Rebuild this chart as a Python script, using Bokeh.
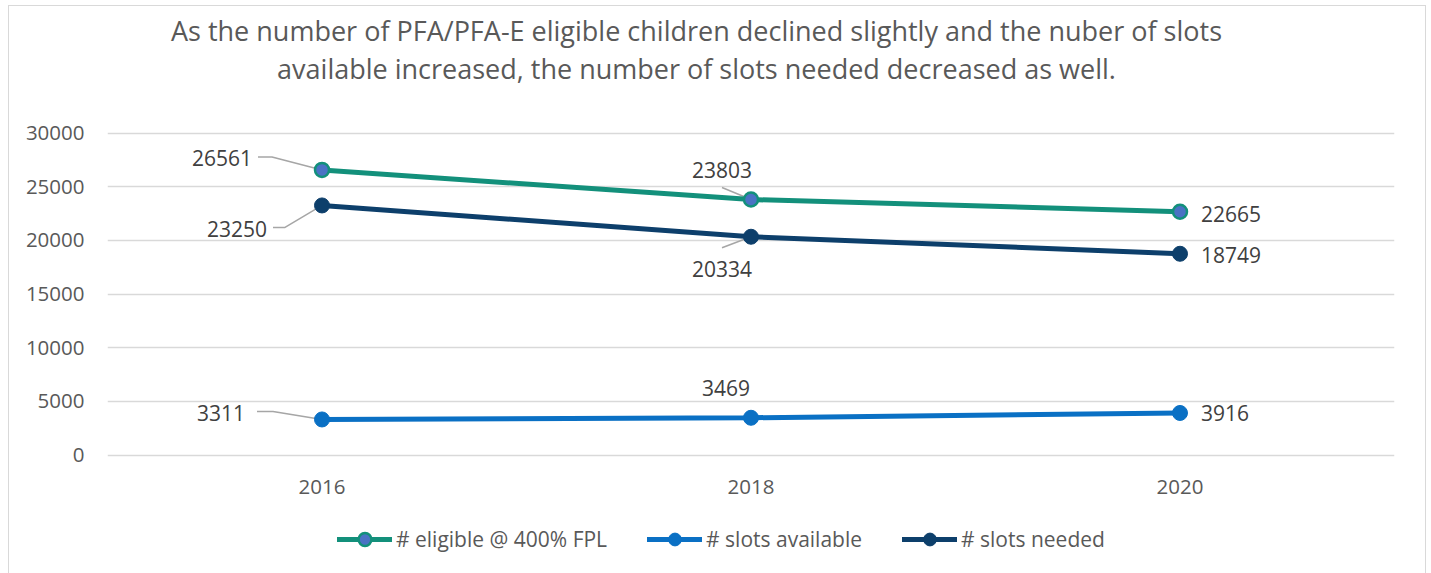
from bokeh.plotting import figure
from bokeh.models import (Range1d, FixedTicker, Legend, LegendItem, Label)
from bokeh.core.properties import value
from bokeh.embed import file_html
from bokeh.resources import INLINE

# ---- data ----
years = ["2016", "2018", "2020"]
eligible = [26561, 23803, 22665]
slots_available = [3311, 3469, 3916]
slots_needed = [23250, 20334, 18749]
series_names = ["# eligible @ 400% FPL", "# slots available", "# slots needed"]
title_lines = ["As the number of PFA/PFA-E eligible children declined slightly and the nuber of slots",
               "available increased, the number of slots needed decreased as well."]

# ---- style / layout ----
FONT = "Open Sans"
GREEN = "#13907b"
BLUE_FILL = "#4a72c4"
BLUE = "#0a70c4"
NAVY = "#0d3f6b"
TXT = "#595959"
LBL = "#404040"

ML, MR = 98, 31
FW, FH = 1287, 567          # frame covers full height so title/legend sit inside it
PLOT_H = 322                # pixel height of the 0..30000 band
TOP_PAD = 126.5
BOT_PAD = FH - TOP_PAD - PLOT_H
YMAX = 30000
PX = PLOT_H / YMAX
xs = list(range(len(years)))

p = figure(frame_width=FW, frame_height=FH, output_backend="svg", toolbar_location=None,
           x_range=Range1d(-0.5, len(years) - 0.5),
           y_range=Range1d(-BOT_PAD / PX, YMAX + TOP_PAD / PX),
           min_border_left=ML, min_border_right=MR, min_border_top=0,
           min_border_bottom=0)
p.margin = (5, 0, 0, 8)
p.styles = {"border": "1.5px solid #d9d9d9"}
p.outline_line_color = None
p.background_fill_color = "white"

def dx(px):
    return px * len(years) / FW
def dy(px):
    return px / PX

# axes
p.xaxis.ticker = FixedTicker(ticks=xs)
p.xaxis.major_label_overrides = {i: y for i, y in enumerate(years)}
p.xaxis.fixed_location = 0
p.yaxis.ticker = FixedTicker(ticks=list(range(0, YMAX + 1, 5000)))
for ax in (p.xaxis[0], p.yaxis[0]):
    ax.axis_line_color = None
    ax.major_tick_line_color = None
    ax.minor_tick_line_color = None
    ax.major_label_text_font = FONT
    ax.major_label_text_font_size = "20.5px"
    ax.major_label_text_color = TXT
p.yaxis.major_label_standoff = 17
p.xaxis.major_label_standoff = 19
p.xgrid.grid_line_color = None
p.ygrid.grid_line_color = "#d9d9d9"
p.ygrid.grid_line_width = 1.5
p.yaxis.formatter.use_scientific = False

# title: two centred lines
for line, ytop in zip(title_lines, [23.5, 61.5]):
    p.add_layout(Label(x=589, y=FH - ytop, x_units="screen", y_units="screen",
                       text=line, text_align="center", text_baseline="middle",
                       text_font=FONT, text_font_size="27px", text_color=TXT))

# leader lines (drawn first)
lead_x = [[xs[0] - dx(64), xs[0] - dx(50), xs[0]],
          [xs[0] - dx(49), xs[0] - dx(37), xs[0]],
          [xs[1] - dx(29), xs[1]],
          [xs[1] - dx(29), xs[1]],
          [xs[0] - dx(65), xs[0] - dx(49), xs[0]]]
lead_y = [[eligible[0] + dy(13), eligible[0] + dy(13), eligible[0]],
          [slots_needed[0] - dy(22), slots_needed[0] - dy(22), slots_needed[0]],
          [eligible[1] + dy(12), eligible[1]],
          [slots_needed[1] - dy(11), slots_needed[1]],
          [slots_available[0] + dy(8), slots_available[0] + dy(8), slots_available[0]]]
p.multi_line(lead_x, lead_y, line_color="#a6a6a6", line_width=1.5)

# series
r1l = p.line(xs, eligible, line_color=GREEN, line_width=5, line_cap="round")
r1m = p.scatter(xs, eligible, size=14, fill_color=BLUE_FILL, line_color=GREEN, line_width=2.5)
r2l = p.line(xs, slots_available, line_color=BLUE, line_width=5, line_cap="round")
r2m = p.scatter(xs, slots_available, size=15, fill_color=BLUE, line_color=BLUE)
r3l = p.line(xs, slots_needed, line_color=NAVY, line_width=5, line_cap="round")
r3m = p.scatter(xs, slots_needed, size=15, fill_color=NAVY, line_color=NAVY)

# data labels
def lab(x, y, text, xo, yo, align):
    p.text([x], [y], text=[text], x_offset=xo, y_offset=yo, text_align=align,
           text_baseline="middle", text_font=value(FONT), text_font_size="21px",
           text_color=LBL)

lab(xs[0], eligible[0], str(eligible[0]), -70, -12, "right")
lab(xs[0], slots_needed[0], str(slots_needed[0]), -55, 24, "right")
lab(xs[0], slots_available[0], str(slots_available[0]), -77, -6, "right")
lab(xs[1], eligible[1], str(eligible[1]), -29, -30, "center")
lab(xs[1], slots_needed[1], str(slots_needed[1]), -29, 32, "center")
lab(xs[1], slots_available[1], str(slots_available[1]), -25, -30, "center")
lab(xs[2], eligible[2], str(eligible[2]), 21, 2, "left")
lab(xs[2], slots_needed[2], str(slots_needed[2]), 21, 1, "left")
lab(xs[2], slots_available[2], str(slots_available[2]), 21, 0, "left")

legend = Legend(items=[LegendItem(label=series_names[0], renderers=[r1l, r1m]),
                       LegendItem(label=series_names[1], renderers=[r2l, r2m]),
                       LegendItem(label=series_names[2], renderers=[r3l, r3m])],
                orientation="horizontal", location=(230, FH - TOP_PAD - PLOT_H - 100),
                label_text_font=FONT, label_text_font_size="21px", label_text_color=TXT,
                glyph_width=55, glyph_height=32, spacing=40, label_standoff=4,
                padding=0, margin=0,
                border_line_color=None, background_fill_alpha=0)
p.add_layout(legend, "center")

open("out.html", "w").write(file_html(p, INLINE))
